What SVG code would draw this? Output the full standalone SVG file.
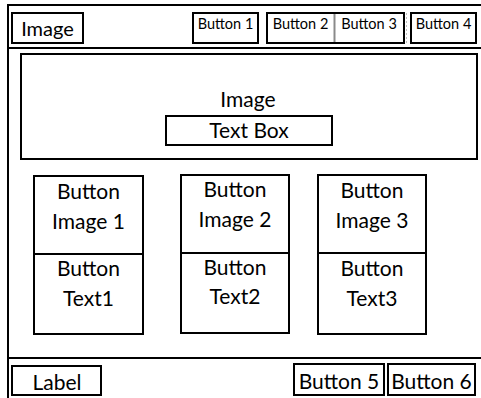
<svg xmlns="http://www.w3.org/2000/svg" width="481" height="398" viewBox="0 0 481 398">
  <style>
    .box { fill: #ffffff; stroke: #000000; stroke-width: 2; }
    .line { fill: none; stroke: #000000; stroke-width: 2; }
    .t { font-family: Lato, "Liberation Sans", sans-serif; fill: #000000; text-anchor: middle; }
    .lg { font-size: 21px; }
    .hd { font-size: 20px; }
    .sm { font-size: 14.5px; }
  </style>
  <rect width="481" height="398" fill="#ffffff"/>

  <!-- screen frame and section dividers -->
  <g id="frame">
    <path class="line" d="M8,398 V5 H481"/>
    <path class="line" d="M8,48 H481"/>
    <path class="line" d="M8,358 H481"/>
  </g>

  <!-- header bar -->
  <g id="header-image">
    <rect class="box" x="12" y="13" width="71" height="30"/>
    <text class="t hd" x="47.5" y="36">Image</text>
  </g>
  <g id="button-1">
    <rect class="box" x="193" y="13" width="65" height="30"/>
    <text class="t sm" x="225.5" y="29">Button 1</text>
  </g>
  <g id="button-2-3">
    <rect class="box" x="267" y="13" width="137" height="30"/>
    <line x1="334.5" y1="14" x2="334.5" y2="42" stroke="#8a8a8a" stroke-width="2"/>
    <line x1="406.5" y1="13" x2="406.5" y2="43" stroke="#bdbdbd" stroke-width="1" stroke-dasharray="2 2"/>
  </g>
  <g id="button-2">
    <text class="t sm" x="300.5" y="29">Button 2</text>
  </g>
  <g id="button-3">
    <text class="t sm" x="369" y="29">Button 3</text>
  </g>
  <g id="button-4">
    <rect class="box" x="411" y="13" width="65" height="30"/>
    <text class="t sm" x="443.5" y="29">Button 4</text>
  </g>

  <!-- banner image with text box -->
  <g id="banner-image">
    <rect class="box" x="21" y="54" width="456" height="105"/>
    <text class="t lg" x="248" y="107">Image</text>
  </g>
  <g id="text-box">
    <rect class="box" x="166" y="116" width="166" height="29"/>
    <text class="t lg" x="249" y="138">Text Box</text>
  </g>

  <!-- image buttons -->
  <g id="image-button-1">
    <rect class="box" x="34" y="176" width="109" height="158"/>
    <line class="line" x1="34" y1="254" x2="143" y2="254"/>
    <text class="t lg" x="88.5" y="199">Button</text>
    <text class="t lg" x="88.5" y="229">Image 1</text>
    <text class="t lg" x="88.5" y="276">Button</text>
    <text class="t lg" x="88.5" y="306">Text1</text>
  </g>
  <g id="image-button-2">
    <rect class="box" x="181" y="175" width="108" height="158"/>
    <line class="line" x1="181" y1="253" x2="289" y2="253"/>
    <text class="t lg" x="235" y="197">Button</text>
    <text class="t lg" x="235" y="227">Image 2</text>
    <text class="t lg" x="235" y="275">Button</text>
    <text class="t lg" x="235" y="304">Text2</text>
  </g>
  <g id="image-button-3">
    <rect class="box" x="318" y="175" width="108" height="159"/>
    <line class="line" x1="318" y1="253" x2="426" y2="253"/>
    <text class="t lg" x="372" y="198">Button</text>
    <text class="t lg" x="372" y="228">Image 3</text>
    <text class="t lg" x="372" y="276">Button</text>
    <text class="t lg" x="372" y="306">Text3</text>
  </g>

  <!-- footer bar -->
  <g id="label">
    <rect class="box" x="12" y="366" width="89" height="29"/>
    <text class="t lg" x="57" y="390">Label</text>
  </g>
  <g id="button-5">
    <rect class="box" x="294" y="364" width="90" height="31"/>
    <text class="t lg" x="339" y="389">Button 5</text>
  </g>
  <g id="button-6">
    <rect class="box" x="388" y="364" width="87" height="31"/>
    <text class="t lg" x="431.5" y="389">Button 6</text>
  </g>
</svg>
